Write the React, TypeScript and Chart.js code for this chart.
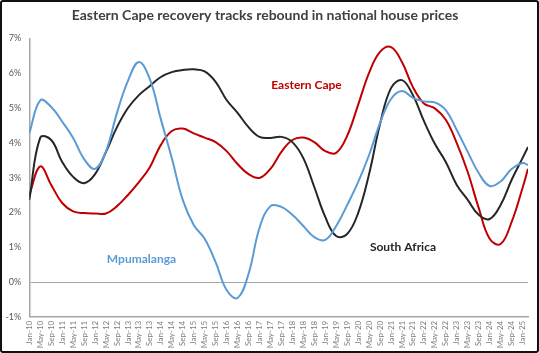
import { useEffect, useRef } from "react";
import { Chart, registerables } from "chart.js";

Chart.register(...registerables);

const tickLabels = [
  "Jan-10", "May-10", "Sep-10", "Jan-11", "May-11", "Sep-11", "Jan-12", "May-12", "Sep-12",
  "Jan-13", "May-13", "Sep-13", "Jan-14", "May-14", "Sep-14", "Jan-15", "May-15", "Sep-15",
  "Jan-16", "May-16", "Sep-16", "Jan-17", "May-17", "Sep-17", "Jan-18", "May-18", "Sep-18",
  "Jan-19", "May-19", "Sep-19", "Jan-20", "May-20", "Sep-20", "Jan-21", "May-21", "Sep-21",
  "Jan-22", "May-22", "Sep-22", "Jan-23", "May-23", "Sep-23", "Jan-24", "May-24", "Sep-24",
  "Jan-25",
];

const periods = [...tickLabels, "Mar-25"];

const mpumalanga = [
  4.28, 5.22, 5.03, 4.61, 4.14, 3.53, 3.25, 3.76, 4.86, 5.78,
  6.32, 5.83, 4.68, 3.56, 2.36, 1.64, 1.24, 0.57, -0.23, -0.46,
  0.23, 1.55, 2.18, 2.16, 1.93, 1.61, 1.29, 1.21, 1.61, 2.21,
  2.87, 3.65, 4.57, 5.26, 5.49, 5.29, 5.19, 5.16, 4.94, 4.37,
  3.74, 3.13, 2.76, 2.89, 3.25, 3.42, 3.36,
];

const southAfrica = [
  2.36, 4.15, 4.08, 3.45, 3.02, 2.84, 3.10, 3.74, 4.45, 5.00,
  5.37, 5.63, 5.89, 6.03, 6.09, 6.11, 6.05, 5.75, 5.23, 4.86,
  4.45, 4.17, 4.14, 4.17, 4.02, 3.56, 2.73, 1.87, 1.32, 1.38,
  1.98, 3.10, 4.54, 5.57, 5.80, 5.37, 4.63, 3.97, 3.45, 2.79,
  2.36, 1.93, 1.81, 2.21, 2.93, 3.56, 3.88,
];

const easternCape = [
  2.50, 3.32, 2.79, 2.27, 2.03, 1.98, 1.97, 1.97, 2.18, 2.50,
  2.87, 3.30, 3.94, 4.34, 4.41, 4.27, 4.15, 4.02, 3.76, 3.39,
  3.10, 2.99, 3.25, 3.74, 4.08, 4.15, 4.02, 3.76, 3.71, 4.20,
  5.09, 6.01, 6.61, 6.75, 6.32, 5.60, 5.13, 4.99, 4.66, 3.99,
  3.16, 2.13, 1.24, 1.09, 1.72, 2.70, 3.25,
];

const yTicks = [-1, 0, 1, 2, 3, 4, 5, 6, 7];

const MONTHS = ["Jan", "Feb", "Mar", "Apr", "May", "Jun", "Jul", "Aug", "Sep", "Oct", "Nov", "Dec"];
const monthIndex = (label: string) => {
  const [m, y] = label.split("-");
  return (parseInt(y, 10) - 10) * 12 + MONTHS.indexOf(m);
};

const seriesLabels = [
  { text: "Eastern Cape", period: "May-17", value: 5.66, color: "#C00000" },
  { text: "Mpumalanga", period: "May-12", value: 0.65, color: "#5B9BD5" },
  { text: "South Africa", period: "May-20", value: 1.0, color: "#262626" },
];

const toPoints = (vals: number[]) => vals.map((v, i) => ({ x: monthIndex(periods[i]), y: v }));

const labelPlugin = {
  id: "seriesLabels",
  afterDatasetsDraw(chart: any) {
    const { ctx, scales } = chart;
    ctx.save();
    ctx.font = "bold 12px Lato";
    ctx.textBaseline = "middle";
    ctx.textAlign = "left";
    for (const l of seriesLabels) {
      const x = scales.x.getPixelForValue(monthIndex(l.period) + 0.3);
      const y = scales.y.getPixelForValue(l.value);
      ctx.fillStyle = l.color;
      ctx.fillText(l.text, x, y);
    }
    ctx.restore();
  },
};

export default function App() {
  const ref = useRef<HTMLCanvasElement>(null);
  useEffect(() => {
    if (!ref.current) return;
    const mk = (label: string, data: number[], color: string) => ({
      label,
      data: toPoints(data),
      borderColor: color,
      backgroundColor: color,
      borderWidth: 2,
      pointRadius: 0,
      tension: 0.4,
      fill: false,
    });
    const chart = new Chart(ref.current, {
      type: "line",
      data: {
        datasets: [
          mk("Mpumalanga", mpumalanga, "#5B9BD5"),
          mk("South Africa", southAfrica, "#262626"),
          mk("Eastern Cape", easternCape, "#C00000"),
        ],
      },
      options: {
        responsive: false,
        animation: false,
        layout: { padding: { left: 0, right: 9, top: 0, bottom: 0 } },
        plugins: {
          legend: { display: false },
          tooltip: { enabled: false },
          title: {
            display: true,
            text: "Eastern Cape recovery tracks rebound in national house prices",
            color: "#404040",
            font: { family: "Lato", size: 14, weight: "bold" },
            padding: { top: 4.6, bottom: 15 },
          },
        },
        scales: {
          x: {
            type: "linear",
            min: 0,
            max: monthIndex(periods[periods.length - 1]),
            afterBuildTicks: (scale: any) => {
              scale.ticks = tickLabels.map((t) => ({ value: monthIndex(t) }));
            },
            afterFit: (scale: any) => {
              scale.height = 34.2;
            },
            ticks: {
              autoSkip: false,
              maxRotation: 90,
              minRotation: 90,
              padding: 4,
              color: "#7F7F7F",
              font: { family: "Lato", size: 8 },
              callback: (v: any) => {
                const t = tickLabels.find((l) => monthIndex(l) === v);
                return t ?? "";
              },
            },
            grid: { display: true, drawTicks: false, color: "transparent" },
            border: { display: true, color: "#A6A6A6", width: 1.5 },
          },
          y: {
            min: -1,
            max: 7,
            afterBuildTicks: (scale: any) => {
              scale.ticks = yTicks.map((v) => ({ value: v }));
            },
            afterFit: (scale: any) => {
              scale.width = 27.3;
            },
            ticks: {
              padding: 8,
              color: "#595959",
              font: { family: "Lato", size: 9 },
              callback: (v: any) => `${v}%`,
            },
            grid: {
              display: true,
              drawTicks: false,
              color: (c: any) => (c.tick && c.tick.value === 0 ? "#A6A6A6" : "transparent"),
              lineWidth: 1,
            },
            border: { display: true, color: "#A6A6A6", width: 1.5 },
          },
        },
      },
      plugins: [labelPlugin],
    });
    return () => chart.destroy();
  }, []);

  return (
    <div
      style={{
        position: "absolute",
        left: 0,
        top: 0,
        width: 539,
        height: 353,
        boxSizing: "border-box",
        border: "2px solid #111",
        borderRadius: 3,
        background: "#fff",
        overflow: "hidden",
      }}
    >
      <canvas ref={ref} width={535} height={349} style={{ display: "block", width: 535, height: 349 }} />
    </div>
  );
}
